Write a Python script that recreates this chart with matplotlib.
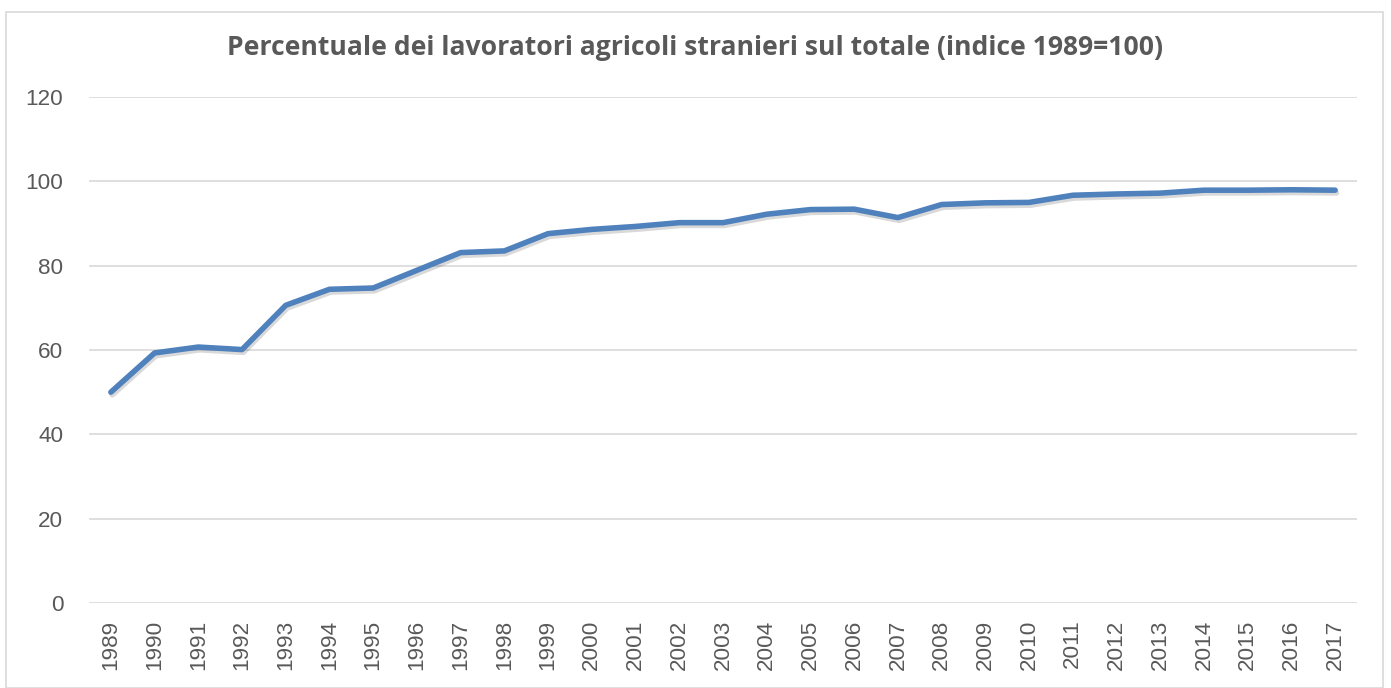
import matplotlib
matplotlib.use("Agg")
import matplotlib.pyplot as plt
import matplotlib.patheffects as pe
from matplotlib.patches import Rectangle

years = list(range(1989, 2018))
values = [50.0, 59.3, 60.7, 60.1, 70.6, 74.4, 74.7, 78.9, 83.1, 83.5,
          87.6, 88.6, 89.3, 90.2, 90.2, 92.2, 93.3, 93.4, 91.4, 94.5,
          94.9, 95.0, 96.7, 97.0, 97.2, 97.9, 97.9, 98.0, 97.9]
yticks = [0, 20, 40, 60, 80, 100, 120]
title = "Percentuale dei lavoratori agricoli stranieri sul totale (indice 1989=100)"

W, H = 1391, 688
fig = plt.figure(figsize=(W / 100, H / 100), dpi=100)
fig.patch.set_facecolor("white")

# outer chart border
fig.add_artist(Rectangle((6 / W, 0), (1383 - 6) / W, (H - 12) / H,
                         transform=fig.transFigure, fill=False,
                         edgecolor="#D9D9D9", linewidth=1.2))

ax = fig.add_axes([89 / W, 1 - 603 / H, (1357 - 89) / W, (603 - 97) / H])
ax.set_facecolor("white")
x = list(range(len(years)))
ax.plot(x, values, color="#4F81BD", linewidth=4.0, solid_capstyle="round",
        solid_joinstyle="round", zorder=3,
        path_effects=[pe.SimpleLineShadow(offset=(1.0, -2.0), shadow_color="#000000", alpha=0.15),
                      pe.Normal()])

ax.set_ylim(0, 120)
ax.set_xlim(-0.5, len(years) - 0.5)
ax.set_yticks(yticks)
ax.set_xticks(x)
ax.set_xticklabels([str(y) for y in years], rotation=90)
ax.grid(axis="y", color="#D9D9D9", linewidth=1.2)
ax.set_axisbelow(True)
for s in ax.spines.values():
    s.set_visible(False)
ax.tick_params(axis="both", length=0, colors="#595959", labelsize=16.2)
ax.tick_params(axis="y", pad=18.5)
ax.tick_params(axis="x", pad=12)
for lab in ax.get_xticklabels() + ax.get_yticklabels():
    lab.set_fontfamily(["Liberation Sans", "DejaVu Sans"])

fig.text(695 / W, 1 - 48 / H, title, ha="center", va="center",
         fontsize=19.1, fontweight="bold", color="#595959",
         family=["Open Sans", "DejaVu Sans"])

fig.savefig("out.png", dpi=100)
